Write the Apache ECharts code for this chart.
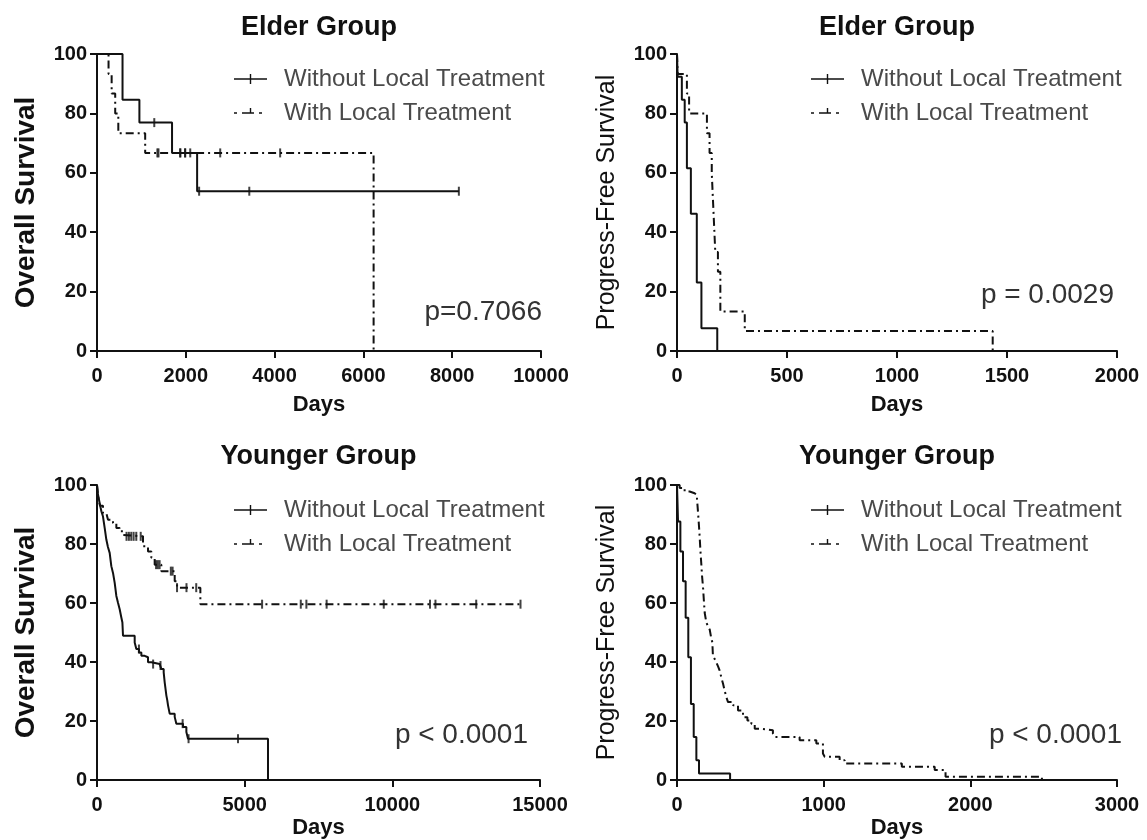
<!DOCTYPE html>
<html>
<head>
<meta charset="utf-8">
<title>Survival curves</title>
<script src="https://cdn.jsdelivr.net/npm/echarts@6/dist/echarts.min.js"></script>
<style>
  html, body { margin: 0; padding: 0; background: #fff; }
  #chart { width: 1147px; height: 840px; }
</style>
</head>
<body>
<div id="chart"></div>
<script>
// panel titles, axis names and p values
const panelTitles = ['Elder Group', 'Elder Group', 'Younger Group', 'Younger Group']
const yNames = ['Overall Survival', 'Progress-Free Survival', 'Overall Survival', 'Progress-Free Survival']
const pValues = ['p=0.7066', 'p = 0.0029', 'p < 0.0001', 'p < 0.0001']
const seriesNames = ['Without Local Treatment', 'With Local Treatment']

// x axis ranges [max, interval]
const xMax = [10000, 2000, 15000, 3000]
const xStep = [2000, 500, 5000, 1000]

// elder group, overall survival: [days, %]
const osElderWithout = [[0, 100], [575, 84.6], [955, 76.9], [1690, 66.7], [2255, 53.8], [8150, 53.8]]
const osElderWithoutCens = [[1290, 76.9], [1875, 66.7], [1985, 66.7], [2100, 66.7], [2300, 53.8], [3430, 53.8], [8150, 53.8]]
const osElderWith = [[0, 100], [260, 93.3], [330, 86.7], [410, 80], [480, 73.3], [1085, 66.7], [6230, 0]]
const osElderWithCens = [[1360, 66.7], [1385, 66.7], [1875, 66.7], [1985, 66.7], [2775, 66.7], [4125, 66.7]]

// elder group, progress-free survival
const pfsElderWithout = [[0, 100], [3, 92.3], [22, 84.6], [35, 76.9], [45, 61.5], [63, 46.2], [90, 23.1], [111, 7.7], [183, 0]]
const pfsElderWith = [[0, 100], [3, 93.3], [45, 86.7], [55, 80], [136, 73.3], [148, 66.7], [158, 60], [162, 53.3],
  [166, 46.7], [170, 40], [174, 33.3], [186, 26.7], [197, 13.3], [308, 6.7], [1435, 0]]

// younger group, overall survival
const osYoungWithout = [[0, 100], [30, 97], [90, 93.8], [150, 91], [203, 89.3], [260, 85.5], [316, 81.5], [370, 79],
  [429, 77], [485, 72.5], [542, 70.2], [598, 66.9], [655, 62.4], [711, 60.1], [768, 57.9], [824, 55.1], [860, 53.4],
  [881, 48.9], [1276, 46.6], [1332, 44.4], [1420, 43.2], [1502, 42.1], [1614, 41.6], [1727, 39.9], [1840, 39.3],
  [2123, 38.8], [2179, 37.6], [2258, 36.5], [2292, 33.1], [2320, 30.9], [2348, 28.7], [2380, 27], [2405, 25.3],
  [2461, 22.5], [2631, 21.4], [2687, 19.1], [2913, 18], [3026, 16.3], [3082, 14], [5790, 0]]
const osYoungWithoutCens = [[1420, 44.4], [1900, 39.3], [2150, 38.8], [2900, 19.1], [3100, 14], [4775, 14]]
const osYoungWith = [[0, 100], [40, 96], [100, 93], [203, 90.4], [316, 89.9], [373, 88.2], [542, 87.1], [655, 85.4],
  [768, 84.3], [881, 83.1], [937, 82.6], [1558, 79.2], [1727, 77.5], [1840, 75.3], [1953, 73], [2179, 70.8],
  [2631, 67.4], [2710, 65.2], [3500, 59.6], [14340, 59.6]]
const osYoungWithCens = [[1000, 82.6], [1080, 82.6], [1160, 82.6], [1240, 82.6], [1330, 82.6], [1480, 82.6],
  [2000, 73], [2060, 73], [2120, 73], [2500, 70.8], [2560, 70.8], [2710, 65.2], [3030, 65.2], [3360, 65.2],
  [5590, 59.6], [6900, 59.6], [7090, 59.6], [7775, 59.6], [9710, 59.6], [11275, 59.6], [11460, 59.6],
  [12840, 59.6], [14340, 59.6]]

// younger group, progress-free survival
const pfsYoungWithout = [[0, 100], [3, 95], [7, 87.6], [23, 77.5], [41, 67.4], [59, 55], [77, 41.6], [95, 25.8],
  [114, 14.6], [132, 6.7], [150, 2.2], [362, 0]]
const pfsYoungWith = [[0, 100], [18, 99], [52, 97.8], [86, 97.2], [120, 96.6], [136, 95.5], [143, 91], [150, 86],
  [155, 82], [160, 77.5], [166, 73], [171, 69], [177, 65.7], [183, 61], [189, 56.6], [200, 53.4], [212, 52],
  [223, 51], [232, 48.5], [241, 46.6], [245, 42.1], [257, 41], [268, 39.9], [280, 38.5], [291, 37.1], [302, 34.8],
  [314, 32.6], [325, 30.3], [336, 28.1], [348, 26.4], [382, 25.3], [416, 23.6], [450, 21.3], [480, 20.2],
  [507, 19.1], [530, 17.4], [564, 16.9], [654, 15.7], [666, 14.6], [836, 13.5], [950, 12.4], [995, 9], [1007, 7.9],
  [1109, 6.7], [1143, 5.6], [1533, 4.5], [1757, 3.4], [1831, 1.1], [2488, 0]]

const panels = [
  { without: osElderWithout, with: osElderWith, cens: [osElderWithoutCens, osElderWithCens] },
  { without: pfsElderWithout, with: pfsElderWith, cens: [[], []] },
  { without: osYoungWithout, with: osYoungWith, cens: [osYoungWithoutCens, osYoungWithCens] },
  { without: pfsYoungWithout, with: pfsYoungWith, cens: [[], []] }
]

const FONT = 'Liberation Sans, Arial, Helvetica, sans-serif'
const INK = '#111'

// layout of the four plots
const grids = [
  { left: 97, top: 54, width: 444, height: 297 },
  { left: 677, top: 54, width: 440, height: 297 },
  { left: 97, top: 485, width: 443, height: 296 },
  { left: 677, top: 485, width: 440, height: 296 }
]

// legend icons: solid line with tick, dash-dot with tick
const iconSolid = 'path://M0,4.3L33,4.3L33,5.7L0,5.7Z M15.8,0L17.2,0L17.2,10L15.8,10Z'
const iconDash = 'path://M0,4.3L3,4.3L3,5.7L0,5.7Z M8,4.3L20,4.3L20,5.7L8,5.7Z M15.8,0L17.2,0L17.2,5.7L15.8,5.7Z M25,4.3L28,4.3L28,5.7L25,5.7Z M33,10L33,10'

const chart = echarts.init(document.getElementById('chart'))

const option = {
  animation: false,
  backgroundColor: '#fff',
  title: panelTitles.map((t, i) => ({
    text: t,
    left: grids[i].left + grids[i].width / 2,
    top: i < 2 ? 14 : 443,
    textAlign: 'center',
    padding: 0,
    textStyle: { fontFamily: FONT, fontSize: 27, fontWeight: 'bold', color: INK }
  })),
  legend: grids.map((g, i) => ({
    orient: 'vertical',
    left: i % 2 === 0 ? 229 : 806,
    top: i < 2 ? 60 : 491,
    itemWidth: 33,
    itemHeight: 10,
    itemGap: 6,
    selectedMode: false,
    itemStyle: { color: INK, borderWidth: 0 },
    lineStyle: { width: 0 },
    textStyle: { fontFamily: FONT, fontSize: 24, color: '#4a4a4a', lineHeight: 28, padding: [0, 0, 0, 12] },
    data: [
      { name: seriesNames[0], icon: iconSolid },
      { name: seriesNames[1], icon: iconDash }
    ]
  })),
  grid: grids,
  xAxis: grids.map((g, i) => ({
    type: 'value',
    gridIndex: i,
    min: 0,
    max: xMax[i],
    interval: xStep[i],
    name: 'Days',
    nameLocation: 'middle',
    nameGap: i < 2 ? 43 : 37,
    nameTextStyle: { fontFamily: FONT, fontSize: 22, fontWeight: 'bold', color: INK },
    axisLine: { lineStyle: { color: INK, width: 2 } },
    axisTick: { length: 7, lineStyle: { color: INK, width: 2 } },
    axisLabel: {
      margin: 15, fontFamily: FONT, fontSize: 20, fontWeight: 'bold', color: INK,
      formatter: v => String(v)
    },
    splitLine: { show: false }
  })),
  yAxis: grids.map((g, i) => ({
    type: 'value',
    gridIndex: i,
    min: 0,
    max: 100,
    interval: 20,
    name: yNames[i],
    nameLocation: 'middle',
    nameGap: i % 2 === 0 ? 57 : 57,
    nameTextStyle: i % 2 === 0
      ? { fontFamily: FONT, fontSize: 28, fontWeight: 'bold', color: INK }
      : { fontFamily: FONT, fontSize: 25, color: INK },
    axisLine: { lineStyle: { color: INK, width: 2 } },
    axisTick: { length: 7, lineStyle: { color: INK, width: 2 } },
    axisLabel: { margin: 10, fontFamily: FONT, fontSize: 20, fontWeight: 'bold', color: INK },
    splitLine: { show: false }
  })),
  graphic: pValues.map((p, i) => ({
    type: 'text',
    x: [542, 1114, 528, 1122][i],
    y: [312, 295, 735, 735][i],
    style: {
      text: p, align: 'right', verticalAlign: 'middle',
      fontFamily: FONT, fontSize: 28, fill: '#333'
    }
  })),
  series: []
}

panels.forEach((p, i) => {
  option.series.push({
    name: seriesNames[0], type: 'line', step: 'end', xAxisIndex: i, yAxisIndex: i,
    data: p.without, showSymbol: false, symbol: 'none',
    itemStyle: { color: INK },
    lineStyle: { color: INK, width: 2 }
  })
  option.series.push({
    name: seriesNames[1], type: 'line', step: 'end', xAxisIndex: i, yAxisIndex: i,
    data: p.with, showSymbol: false, symbol: 'none',
    itemStyle: { color: INK },
    lineStyle: { color: INK, width: 2, type: [8, 4, 2, 4] }
  })
  p.cens.forEach(c => {
    if (!c.length) return
    option.series.push({
      name: 'censored', type: 'scatter', xAxisIndex: i, yAxisIndex: i,
      data: c, symbol: 'rect', symbolSize: [2, 9],
      itemStyle: { color: INK }
    })
  })
})

chart.setOption(option)
window.addEventListener('resize', () => {
  chart.resize()
})
</script>
</body>
</html>
